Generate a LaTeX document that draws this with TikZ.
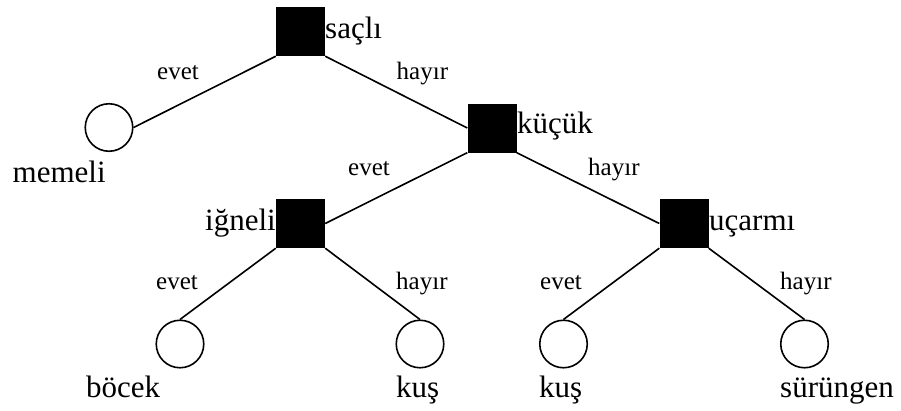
\documentclass[tikz,border=0pt]{standalone}
\usepackage{fontspec}
\setmainfont{Liberation Serif}
\begin{document}
\begin{tikzpicture}[x=1pt,y=-1pt,
  qbox/.style={rectangle,fill=black,minimum size=49pt,inner sep=0pt},
  leafnode/.style={circle,draw=black,line width=1.6pt,minimum size=47.5pt,inner sep=0pt},
  branch/.style={line width=1.6pt},
  biglabel/.style={anchor=base west,inner sep=0pt,font=\fontsize{31}{31}\selectfont},
  anslabel/.style={anchor=base west,inner sep=0pt,font=\fontsize{25}{25}\selectfont}]
\useasboundingbox (0,0) rectangle (901,410);

% decision nodes
\node[qbox] (sacli) at (300.5,31.5) {};
\node[qbox] (kucuk) at (492,128) {};
\node[qbox] (igneli) at (300.5,223.5) {};
\node[qbox] (ucarmi) at (684,223.5) {};

% leaves
\node[leafnode] (memeli) at (109,127.5) {};
\node[leafnode] (bocek) at (180,344) {};
\node[leafnode] (kus1) at (420,344) {};
\node[leafnode] (kus2) at (563.5,344) {};
\node[leafnode] (surungen) at (804.5,344) {};

% branches
\draw[branch] (sacli.south west) -- (memeli.east);
\draw[branch] (sacli.south east) -- (kucuk.west);
\draw[branch] (kucuk.south west) -- (igneli.east);
\draw[branch] (kucuk.south east) -- (ucarmi.west);
\draw[branch] (igneli.south west) -- (bocek.north);
\draw[branch] (igneli.south east) -- (kus1.north);
\draw[branch] (ucarmi.south west) -- (kus2.north);
\draw[branch] (ucarmi.south east) -- (surungen.north);

% question labels
\node[biglabel] (tsacli) at (325,38) {saçlı};
\node[biglabel] (tkucuk) at (517,133.5) {küçük};
\node[biglabel,anchor=base east] (tigneli) at (276,230) {iğneli};
\node[biglabel] (tucarmi) at (709,230) {uçarmı};

% leaf labels
\node[biglabel] (tmemeli) at (12.5,182.5) {memeli};
\node[biglabel] (tbocek) at (86,397) {böcek};
\node[biglabel] (tkus1) at (396,397) {kuş};
\node[biglabel] (tkus2) at (539,397) {kuş};
\node[biglabel] (tsurungen) at (780,397) {sürüngen};

% answer labels
\node[anslabel] (a1) at (157,79.5) {evet};
\node[anslabel] (a2) at (396.5,79.5) {hayır};
\node[anslabel] (a3) at (348,175) {evet};
\node[anslabel] (a4) at (588,175) {hayır};
\node[anslabel] (a5) at (156,289) {evet};
\node[anslabel] (a6) at (396,289) {hayır};
\node[anslabel] (a7) at (540,289) {evet};
\node[anslabel] (a8) at (780,289) {hayır};
\end{tikzpicture}
\end{document}
